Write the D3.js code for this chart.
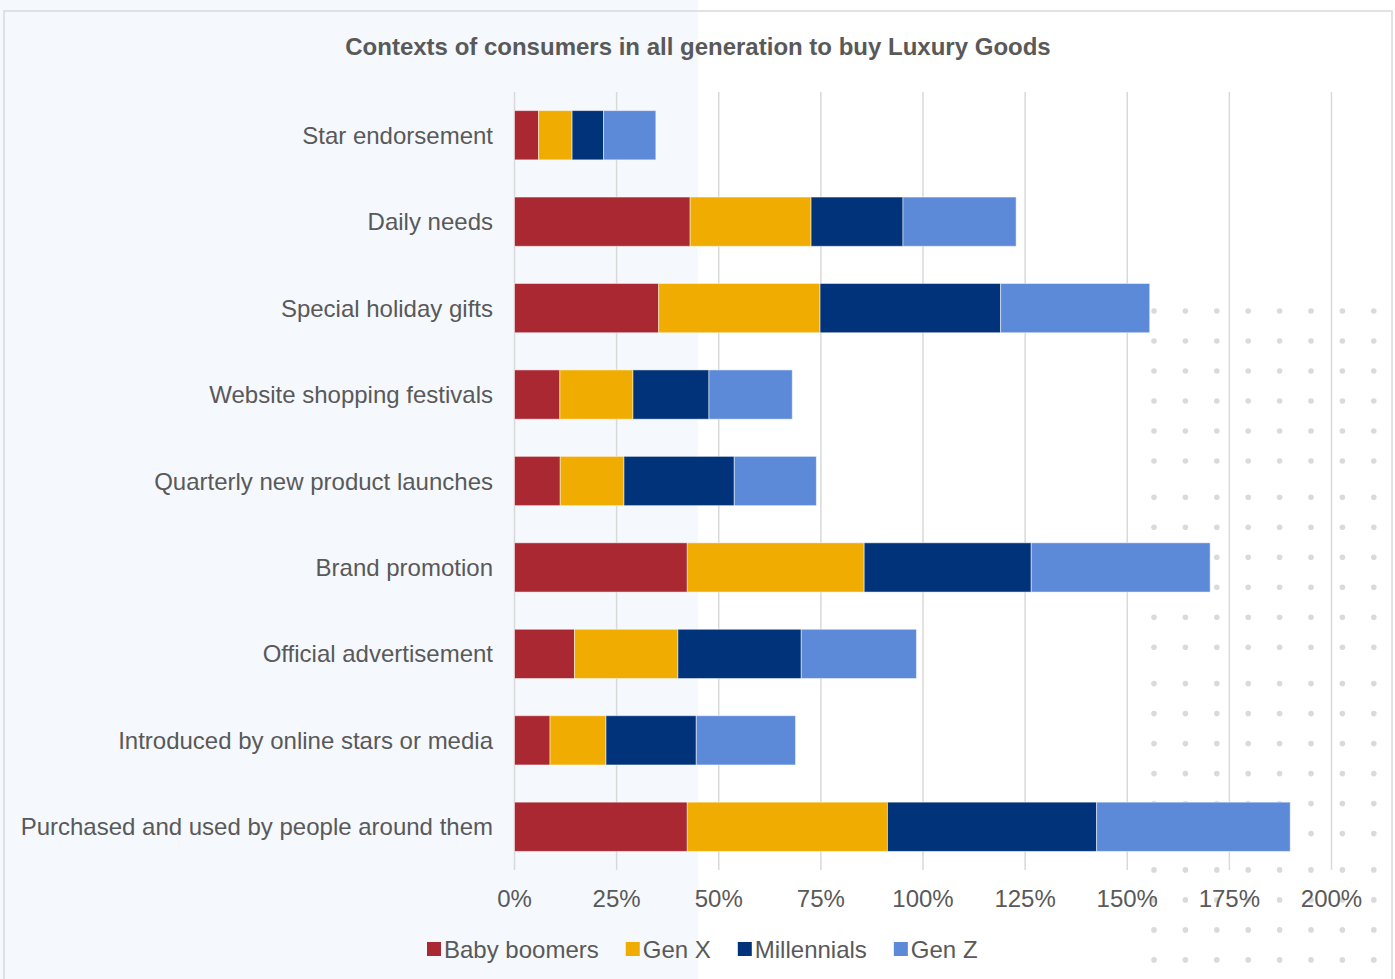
<!DOCTYPE html>
<html>
<head>
<meta charset="utf-8">
<script src="https://cdn.jsdelivr.net/npm/d3@7"></script>
<style>
  html, body { margin: 0; padding: 0; background: #ffffff; }
  svg { display: block; }
  text { font-family: "Liberation Sans", Arial, sans-serif; }
</style>
</head>
<body>
<script>
// ---------- DATA ----------
const title = "Contexts of consumers in all generation to buy Luxury Goods";
const categories = [
  "Star endorsement",
  "Daily needs",
  "Special holiday gifts",
  "Website shopping festivals",
  "Quarterly new product launches",
  "Brand promotion",
  "Official advertisement",
  "Introduced by online stars or media",
  "Purchased and used by people around them"
];
const seriesNames = ["Baby boomers", "Gen X", "Millennials", "Gen Z"];
const babyBoomers = [5.9, 43.0, 35.3, 11.1, 11.2, 42.3, 14.7, 8.7, 42.3];
const genX        = [8.2, 29.6, 39.5, 17.9, 15.6, 43.3, 25.3, 13.7, 49.0];
const millennials = [7.7, 22.5, 44.2, 18.6, 27.0, 40.9, 30.2, 22.1, 51.2];
const genZ        = [12.8, 27.7, 36.5, 20.4, 20.1, 43.8, 28.2, 24.3, 47.4];
const tickValues = [0, 25, 50, 75, 100, 125, 150, 175, 200];
const tickLabels = ["0%", "25%", "50%", "75%", "100%", "125%", "150%", "175%", "200%"];
const colors = ["#AA2832", "#F0AC00", "#00337A", "#5C8AD9"];

// ---------- SETUP ----------
const W = 1395, H = 979;
const svg = d3.select("body").append("svg").attr("width", W).attr("height", H);

// background panels
svg.append("rect").attr("x", 0).attr("y", 0).attr("width", W).attr("height", H).attr("fill", "#ffffff");
svg.append("rect").attr("x", 0).attr("y", 0).attr("width", 698).attr("height", H).attr("fill", "#F5F8FD");

// decorative dot pattern (right side)
const dotG = svg.append("g");
const dotCols = d3.range(8).map(i => 1154 + i * 31.4);
const dotRows = [];
for (let g = 0; g < 4; g++) for (let k = 0; k < 6; k++) dotRows.push(311 + g * 186.3 + k * 30);
dotRows.forEach(y => dotCols.forEach(x => {
  dotG.append("circle").attr("cx", x).attr("cy", y).attr("r", 2.8).attr("fill", "#DADADA");
}));

// frame
svg.append("rect").attr("x", 4).attr("y", 11).attr("width", 1388).attr("height", 990)
  .attr("fill", "none").attr("stroke", "#D9D9D9").attr("stroke-width", 1.5);

// title
svg.append("text").attr("x", 698).attr("y", 46).attr("text-anchor", "middle")
  .attr("dominant-baseline", "central")
  .attr("font-size", 24).attr("font-weight", "bold").attr("fill", "#595959").text(title);

// scales
const x = d3.scaleLinear().domain([0, 200]).range([514.5, 1331.5]);
const y = d3.scaleBand().domain(categories).range([92, 870]).paddingInner(0.43).paddingOuter(0.215);

// gridlines
svg.append("g").selectAll("line").data(tickValues).join("line")
  .attr("x1", d => x(d)).attr("x2", d => x(d))
  .attr("y1", 92).attr("y2", 870)
  .attr("stroke", "#D9D9D9").attr("stroke-width", 1.5);

// stacked data
const rows = categories.map((c, i) => ({
  category: c,
  "Baby boomers": babyBoomers[i],
  "Gen X": genX[i],
  "Millennials": millennials[i],
  "Gen Z": genZ[i]
}));
const stacked = d3.stack().keys(seriesNames)(rows);

svg.append("g").selectAll("g").data(stacked).join("g")
  .attr("fill", (d, i) => colors[i])
  .selectAll("rect").data(d => d).join("rect")
  .attr("x", d => x(d[0]))
  .attr("y", d => y(d.data.category))
  .attr("width", d => x(d[1]) - x(d[0]))
  .attr("height", y.bandwidth())
  .attr("stroke", "#ffffff").attr("stroke-opacity", 0.5).attr("stroke-width", 1);

// category labels
svg.append("g").selectAll("text").data(categories).join("text")
  .attr("x", 493).attr("y", d => y(d) + y.bandwidth() / 2)
  .attr("text-anchor", "end").attr("dominant-baseline", "central")
  .attr("font-size", 24).attr("fill", "#595959").text(d => d);

// x-axis tick labels
svg.append("g").selectAll("text").data(tickValues).join("text")
  .attr("x", d => x(d)).attr("y", 898)
  .attr("text-anchor", "middle").attr("dominant-baseline", "central")
  .attr("font-size", 24).attr("fill", "#595959").text((d, i) => tickLabels[i]);

// legend
const leg = svg.append("g");
let lx = 427;
seriesNames.forEach((name, i) => {
  leg.append("rect").attr("x", lx).attr("y", 942).attr("width", 14).attr("height", 14).attr("fill", colors[i]);
  const t = leg.append("text").attr("x", lx + 17).attr("y", 949)
    .attr("dominant-baseline", "central").attr("font-size", 24).attr("fill", "#595959").text(name);
  lx += 17 + t.node().getComputedTextLength() + 27;
});
</script>
</body>
</html>
